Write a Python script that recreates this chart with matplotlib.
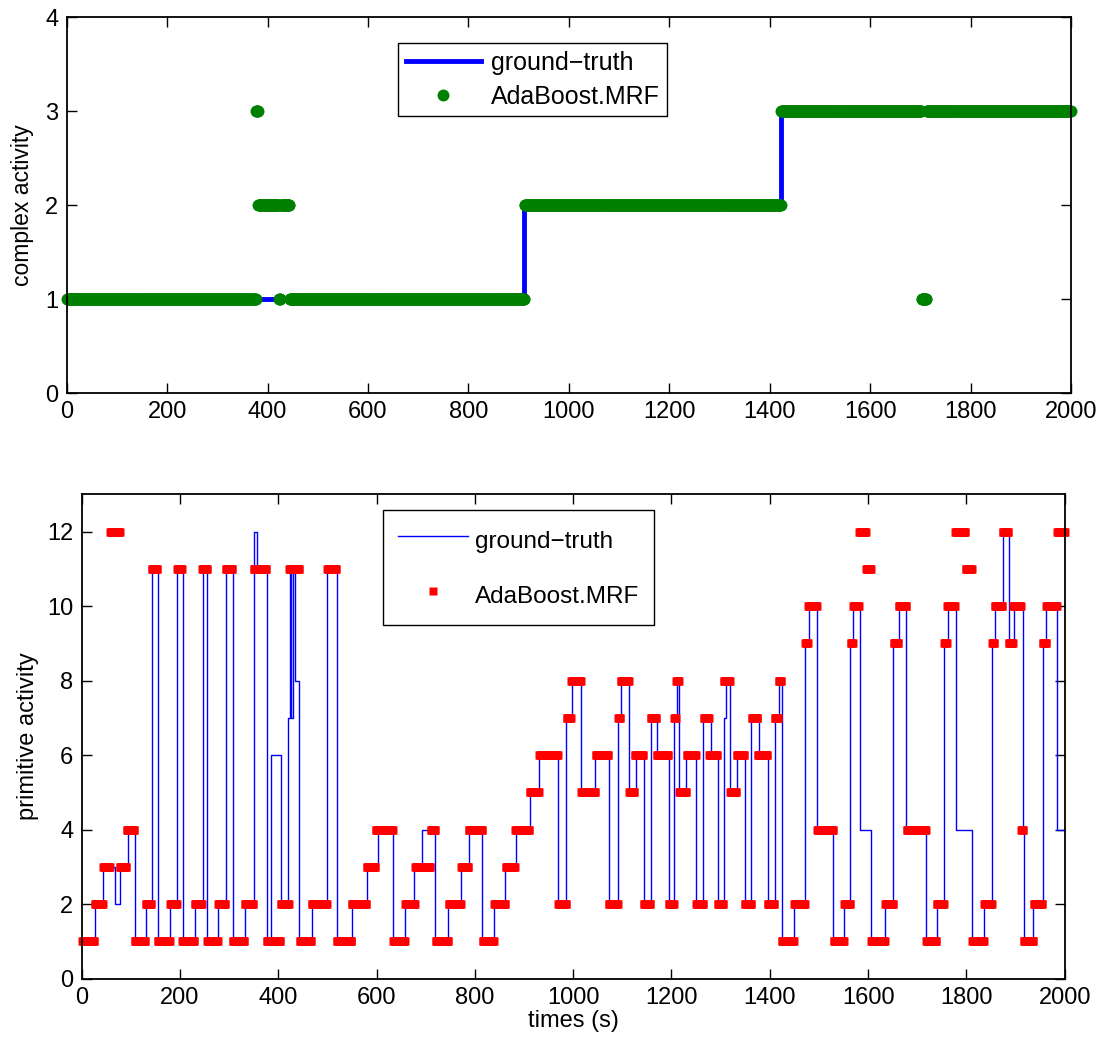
import numpy as np
import matplotlib.pyplot as plt

plt.rcParams['font.family'] = ['Liberation Sans', 'DejaVu Sans']

T_END = 2000

# top panel: complex activity, change points (time, label)
complex_gt_t = [0, 911, 1422]
complex_gt_v = [1, 2, 3]
complex_pred_t = [0, 377, 381, 423, 426, 444, 912, 1423, 1703, 1713]
complex_pred_v = [1, 3, 2, 1, 2, 1, 2, 3, 1, 3]

# bottom panel: primitive activity, change points (time, label)
prim_gt_t = [0, 28, 44, 67, 79, 94, 108, 130, 143, 155, 180, 194, 206, 230, 246,
             256, 278, 293, 307, 332, 351, 357, 377, 385, 406, 419, 424, 426, 431,
             435, 443, 469, 500, 519, 550, 580, 602, 634, 658, 676, 692, 719, 746,
             772, 789, 815, 839, 862, 884, 912, 931, 970, 986, 997, 1016, 1044,
             1072, 1091, 1097, 1114, 1127, 1144, 1158, 1171, 1194, 1206, 1212,
             1216, 1230, 1250, 1265, 1280, 1294, 1306, 1311, 1320, 1333, 1350,
             1362, 1378, 1396, 1410, 1418, 1424, 1450, 1471, 1480, 1497, 1529,
             1552, 1563, 1569, 1584, 1605, 1634, 1651, 1662, 1678, 1718, 1740,
             1754, 1763, 1778, 1811, 1836, 1852, 1858, 1874, 1886, 1896, 1915,
             1917, 1936, 1955, 1963, 1985]
prim_gt_v = [1, 2, 3, 2, 3, 4, 1, 2, 11, 1, 2, 11, 1, 2, 11,
             1, 2, 11, 1, 2, 12, 11, 1, 6, 2, 7, 11, 7, 11,
             8, 1, 2, 11, 1, 2, 3, 4, 1, 2, 3, 4, 1, 2,
             3, 4, 1, 2, 3, 4, 5, 6, 2, 7, 8, 5, 6,
             2, 7, 8, 5, 6, 2, 7, 6, 2, 7, 8,
             5, 6, 2, 7, 6, 2, 7, 8, 5, 6, 2,
             7, 6, 2, 7, 8, 1, 2, 9, 10, 4, 1,
             2, 9, 10, 4, 1, 2, 9, 10, 4, 1, 2,
             9, 10, 4, 1, 2, 9, 10, 12, 9, 10, 4,
             1, 2, 9, 10, 4]

prim_pred_t = [0, 27, 44, 58, 78, 92, 108, 130, 143, 155, 180, 194, 205, 230, 245,
               256, 278, 293, 307, 332, 350, 377, 405, 422, 444, 468, 500, 519,
               550, 580, 598, 634, 658, 679, 710, 720, 747, 772, 788, 816, 839,
               863, 882, 912, 931, 970, 987, 996, 1016, 1046, 1072, 1092, 1097,
               1114, 1125, 1144, 1158, 1170, 1194, 1206, 1210, 1216, 1231, 1250,
               1266, 1277, 1294, 1306, 1320, 1333, 1349, 1363, 1376, 1396, 1410,
               1418, 1424, 1450, 1472, 1478, 1497, 1530, 1552, 1565, 1570, 1582,
               1596, 1606, 1635, 1652, 1662, 1679, 1718, 1740, 1755, 1761, 1777,
               1799, 1812, 1836, 1853, 1858, 1874, 1886, 1895, 1912, 1917, 1937,
               1955, 1963, 1985]
prim_pred_v = [1, 2, 3, 12, 3, 4, 1, 2, 11, 1, 2, 11, 1, 2, 11,
               1, 2, 11, 1, 2, 11, 1, 2, 11, 1, 2, 11, 1,
               2, 3, 4, 1, 2, 3, 4, 1, 2, 3, 4, 1, 2,
               3, 4, 5, 6, 2, 7, 8, 5, 6, 2, 7, 8,
               5, 6, 2, 7, 6, 2, 7, 8, 5, 6, 2,
               7, 6, 2, 8, 5, 6, 2, 7, 6, 2, 7,
               8, 1, 2, 9, 10, 4, 1, 2, 9, 10, 12,
               11, 1, 2, 9, 10, 4, 1, 2, 9, 10, 12,
               11, 1, 2, 9, 10, 12, 9, 10, 4, 1, 2,
               9, 10, 12]


# step line through the change points, held to the end of the record
def step_line(tt, vv):
    return list(tt) + [T_END], list(vv) + [vv[-1]]


# one prediction per second, looked up from the change points
def samples(tt, vv):
    t = np.arange(1, T_END + 1)
    idx = np.searchsorted(tt, t, side='right') - 1
    return t, np.asarray(vv)[idx]


def matlab_axes(ax):
    ax.tick_params(direction='in', top=True, right=True, length=7, width=1,
                   labelsize=17, pad=6)
    for s in ax.spines.values():
        s.set_linewidth(1.3)


fig = plt.figure(figsize=(11.08, 10.43), dpi=100)

# top panel
ax1 = fig.add_axes([0.0602, 0.6232, 0.9064, 0.3605])
gx, gy = step_line(complex_gt_t, complex_gt_v)
ax1.plot(gx, gy, drawstyle='steps-post', color='#0000ff', lw=3.5,
         label='ground\u2212truth')
pt, pv = samples(complex_pred_t, complex_pred_v)
ax1.plot(pt, pv, 'o', color='#008000', ms=8.6, mec='none', clip_on=False,
         label='AdaBoost.MRF')
ax1.set_xlim(0, 2000)
ax1.set_ylim(0, 4)
ax1.set_xticks(range(0, 2001, 200))
ax1.set_yticks(range(0, 5))
ax1.set_ylabel('complex activity', fontsize=16.5, labelpad=8)
matlab_axes(ax1)
leg1 = ax1.legend(loc='upper left', bbox_to_anchor=(0.33, 0.93), fontsize=18,
                  fancybox=False, edgecolor='black', framealpha=1,
                  handlelength=3, labelspacing=0.4, borderpad=0.3,
                  handletextpad=0.4, numpoints=1, borderaxespad=0)
leg1.get_frame().set_linewidth(1)

# bottom panel
ax2 = fig.add_axes([0.0737, 0.0616, 0.8872, 0.4644])
gx, gy = step_line(prim_gt_t, prim_gt_v)
ax2.plot(gx, gy, drawstyle='steps-post', color='#0000ff', lw=1,
         label='ground\u2212truth')
pt, pv = samples(prim_pred_t, prim_pred_v)
ax2.plot(pt, pv, 's', color='#ff0000', ms=5.2, mec='none', clip_on=False,
         label='AdaBoost.MRF')
ax2.set_xlim(0, 2000)
ax2.set_ylim(0, 13)
ax2.set_xticks(range(0, 2001, 200))
ax2.set_yticks(range(0, 13, 2))
ax2.set_xlabel('times (s)', fontsize=17, labelpad=1)
ax2.set_ylabel('primitive activity', fontsize=17, labelpad=6)
matlab_axes(ax2)
leg2 = ax2.legend(loc='upper left', bbox_to_anchor=(0.3065, 0.968), fontsize=17.5,
                  fancybox=False, edgecolor='black', framealpha=1,
                  handlelength=2.9, handleheight=1.6, labelspacing=0.98,
                  borderpad=0.6, handletextpad=0.3, numpoints=1,
                  borderaxespad=0)
leg2.get_frame().set_linewidth(1)

fig.savefig('out.png', dpi=100)
